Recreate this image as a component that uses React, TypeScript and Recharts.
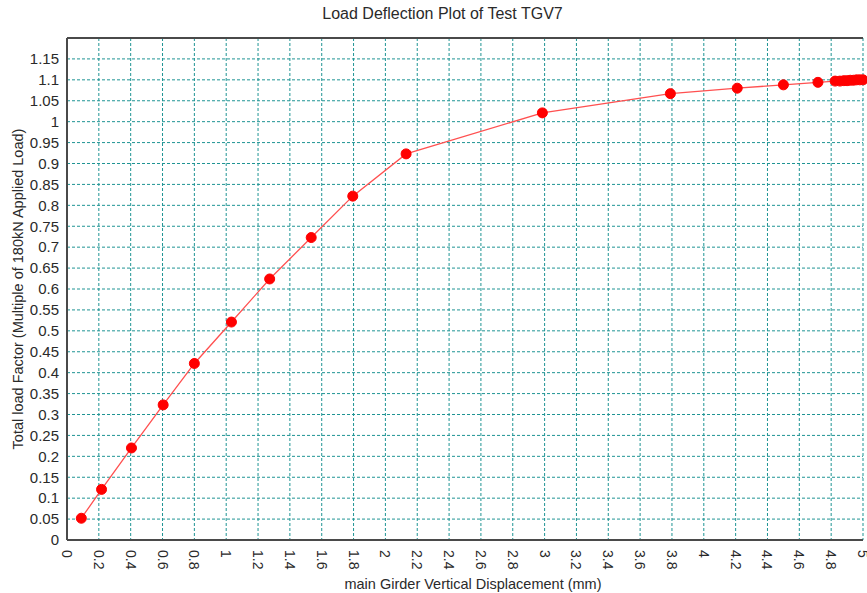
import React from 'react'
import {
  LineChart, Line, XAxis, YAxis, CartesianGrid, ReferenceLine,
} from 'recharts'

// measured girder deflection (mm) against applied load factor
const deflection = [
  0.09, 0.217, 0.405, 0.604, 0.80, 1.033, 1.273, 1.534, 1.795, 2.13, 2.986,
  3.79, 4.21, 4.50, 4.717, 4.825, 4.855, 4.88, 4.90, 4.92, 4.94, 4.96, 4.98, 5.0,
]
const loadFactor = [
  0.052, 0.121, 0.22, 0.323, 0.422, 0.521, 0.624, 0.723, 0.822, 0.923, 1.021,
  1.067, 1.08, 1.088, 1.094, 1.097, 1.097, 1.098, 1.098, 1.099, 1.099, 1.1, 1.1, 1.1,
]

const xTicks = [
  0, 0.2, 0.4, 0.6, 0.8, 1, 1.2, 1.4, 1.6, 1.8, 2, 2.2, 2.4, 2.6, 2.8, 3,
  3.2, 3.4, 3.6, 3.8, 4, 4.2, 4.4, 4.6, 4.8, 5,
]
const yTicks = [
  0, 0.05, 0.1, 0.15, 0.2, 0.25, 0.3, 0.35, 0.4, 0.45, 0.5, 0.55, 0.6,
  0.65, 0.7, 0.75, 0.8, 0.85, 0.9, 0.95, 1, 1.05, 1.1, 1.15,
]

const data = deflection.map((x, i) => ({ x, load: loadFactor[i] }))

const FONT = '"Liberation Sans", Arial, sans-serif'
const TEXT = '#2a2a2a'
const GRID = '#1f9494'
const AXIS = '#4a4a4a'

const fmt = (v: number) => String(+v.toFixed(2))

const XTick = ({ x, y, payload }: any) => (
  <text
    x={x}
    y={y + 2}
    transform={`rotate(90, ${x}, ${y + 2})`}
    textAnchor="start"
    dominantBaseline="central"
    fontFamily={FONT}
    fontSize={14}
    fill={TEXT}
  >
    {fmt(payload.value)}
  </text>
)

const App = () => {
  return (
    <div style={{ position: 'relative', width: 867, height: 593, background: '#fff' }}>
      <style>{'body{margin:0}'}</style>
      <LineChart
        width={867}
        height={593}
        data={data}
        margin={{ top: 38, right: 4, left: 0, bottom: 0 }}
      >
        <CartesianGrid stroke={GRID} strokeDasharray="3 2" />
        <XAxis
          type="number"
          dataKey="x"
          domain={[0, 5]}
          ticks={xTicks}
          interval={0}
          height={53}
          axisLine={{ stroke: AXIS, strokeWidth: 2 }}
          tickLine={false}
          tick={<XTick />}
        />
        <YAxis
          type="number"
          domain={[0, 1.2]}
          ticks={yTicks}
          interval={0}
          width={67}
          axisLine={{ stroke: AXIS, strokeWidth: 2 }}
          tickLine={false}
          tickFormatter={fmt}
          tick={{ fontFamily: FONT, fontSize: 15, fill: TEXT }}
        />
        <ReferenceLine y={1.2} stroke={AXIS} strokeWidth={2} />
        <Line
          type="linear"
          dataKey="load"
          stroke="#ff5050"
          strokeWidth={1.3}
          dot={{ r: 5, fill: '#ff0000', stroke: '#ff0000', strokeWidth: 1 }}
          activeDot={false}
          isAnimationActive={false}
        />
      </LineChart>
      <div
        style={{
          position: 'absolute', left: 0, width: 885, top: 5, textAlign: 'center',
          fontFamily: FONT, fontSize: 16, color: TEXT,
        }}
      >
        Load Deflection Plot of Test TGV7
      </div>
      <div
        style={{
          position: 'absolute', left: 0, width: 946, top: 576, textAlign: 'center',
          fontFamily: FONT, fontSize: 14.5, color: TEXT,
        }}
      >
        main Girder Vertical Displacement (mm)
      </div>
      <div
        style={{
          position: 'absolute', left: 18, top: 289, width: 0, height: 0,
        }}
      >
        <div
          style={{
            position: 'absolute', left: -250, top: -9, width: 500, textAlign: 'center',
            transform: 'rotate(-90deg)', fontFamily: FONT, fontSize: 14.5, color: TEXT,
            whiteSpace: 'nowrap', lineHeight: '18px',
          }}
        >
          Total load Factor (Multiple of 180kN Applied Load)
        </div>
      </div>
    </div>
  )
}

export default App
